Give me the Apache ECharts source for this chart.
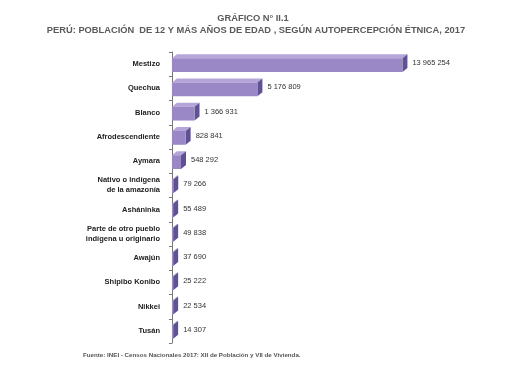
<!DOCTYPE html>
<html>
<head>
<meta charset="utf-8">
<script src="https://cdn.jsdelivr.net/npm/echarts@6/dist/echarts.min.js"></script>
<style>
html,body{margin:0;padding:0;background:#fff;}
#chart{width:518px;height:368px;}
</style>
</head>
<body>
<div id="chart"></div>
<script>
const categories = [
  "Mestizo", "Quechua", "Blanco", "Afrodescendiente", "Aymara",
  "Nativo o indígena\nde la amazonía", "Asháninka",
  "Parte de otro pueblo\nindígena u originario", "Awajún",
  "Shipibo Konibo", "Nikkei", "Tusán"
];
const values = [13965254, 5176809, 1366931, 828841, 548292, 79266, 55489, 49838, 37690, 25222, 22534, 14307];

function fmt(v) {
  return String(v).replace(/\B(?=(\d{3})+(?!\d))/g, " ");
}

const chart = echarts.init(document.getElementById('chart'), null, {renderer: 'canvas'});
const DX = 5, DY = 4;
const option = {
  backgroundColor: '#ffffff',
  animation: false,
  title: [
    {
      text: 'GRÁFICO N° II.1',
      left: 253, top: 14, textAlign: 'center', padding: 0,
      textStyle: {fontFamily: 'Liberation Sans', fontSize: 9.3, fontWeight: 'bold', color: '#5a5a5a'}
    },
    {
      text: 'PERÚ: POBLACIÓN  DE 12 Y MÁS AÑOS DE EDAD , SEGÚN AUTOPERCEPCIÓN ÉTNICA, 2017',
      left: 256, top: 26, textAlign: 'center', padding: 0,
      textStyle: {fontFamily: 'Liberation Sans', fontSize: 9.3, fontWeight: 'bold', color: '#5a5a5a'}
    },
    {
      text: 'Fuente: INEI - Censos Nacionales 2017: XII de Población y VII de Vivienda.',
      left: 83, top: 352, padding: 0,
      textStyle: {fontFamily: 'Liberation Sans', fontSize: 6.2, fontWeight: 'bold', color: '#555'}
    }
  ],
  grid: {left: 167, top: 52, bottom: 25, right: 82},
  xAxis: {
    type: 'value', min: -300000, max: 16000000,
    axisLine: {show: false}, axisTick: {show: false},
    axisLabel: {show: false}, splitLine: {show: false}
  },
  yAxis: {
    type: 'category', data: categories, inverse: true,
    axisLine: {show: true, lineStyle: {color: '#777', width: 1}},
    axisTick: {show: true, length: 3, lineStyle: {color: '#777'}},
    axisLabel: {
      fontFamily: 'Liberation Sans', fontSize: 7.5, fontWeight: 'bold',
      color: '#222', margin: 7, lineHeight: 10, align: 'right'
    }
  },
  series: [{
    type: 'custom',
    data: values.map((v, i) => [v, i]),
    encode: {x: 0, y: 1},
    renderItem: function (params, api) {
      const idx = api.value(1);
      const v = api.value(0);
      const s = api.coord([0, idx]);
      const e = api.coord([v, idx]);
      const band = api.size([0, 1])[1];
      const h = band * 0.57;
      const x0 = s[0], x1 = Math.max(e[0], x0 + 1.2);
      const yT = s[1] - h / 2 + 1;
      const yB = yT + h;
      return {
        type: 'group',
        children: [
          {type: 'polygon', shape: {points: [[x0, yT], [x0 + DX, yT - DY], [x1 + DX, yT - DY], [x1, yT]]},
           style: {fill: '#b4a6d9'}},
          {type: 'polygon', shape: {points: [[x1, yT], [x1 + DX, yT - DY], [x1 + DX, yB - DY], [x1, yB]]},
           style: {fill: '#5f5192'}},
          {type: 'rect', shape: {x: x0, y: yT, width: x1 - x0, height: h},
           style: {fill: '#9a88c6'}},
          {type: 'text', x: x1 + DX + 5, y: (yT + yB) / 2 - 2,
           style: {text: fmt(v), fill: '#333', font: '7.5px "Liberation Sans"', textVerticalAlign: 'middle', verticalAlign: 'middle'}}
        ]
      };
    }
  }]
};
chart.setOption(option);
</script>
</body>
</html>
